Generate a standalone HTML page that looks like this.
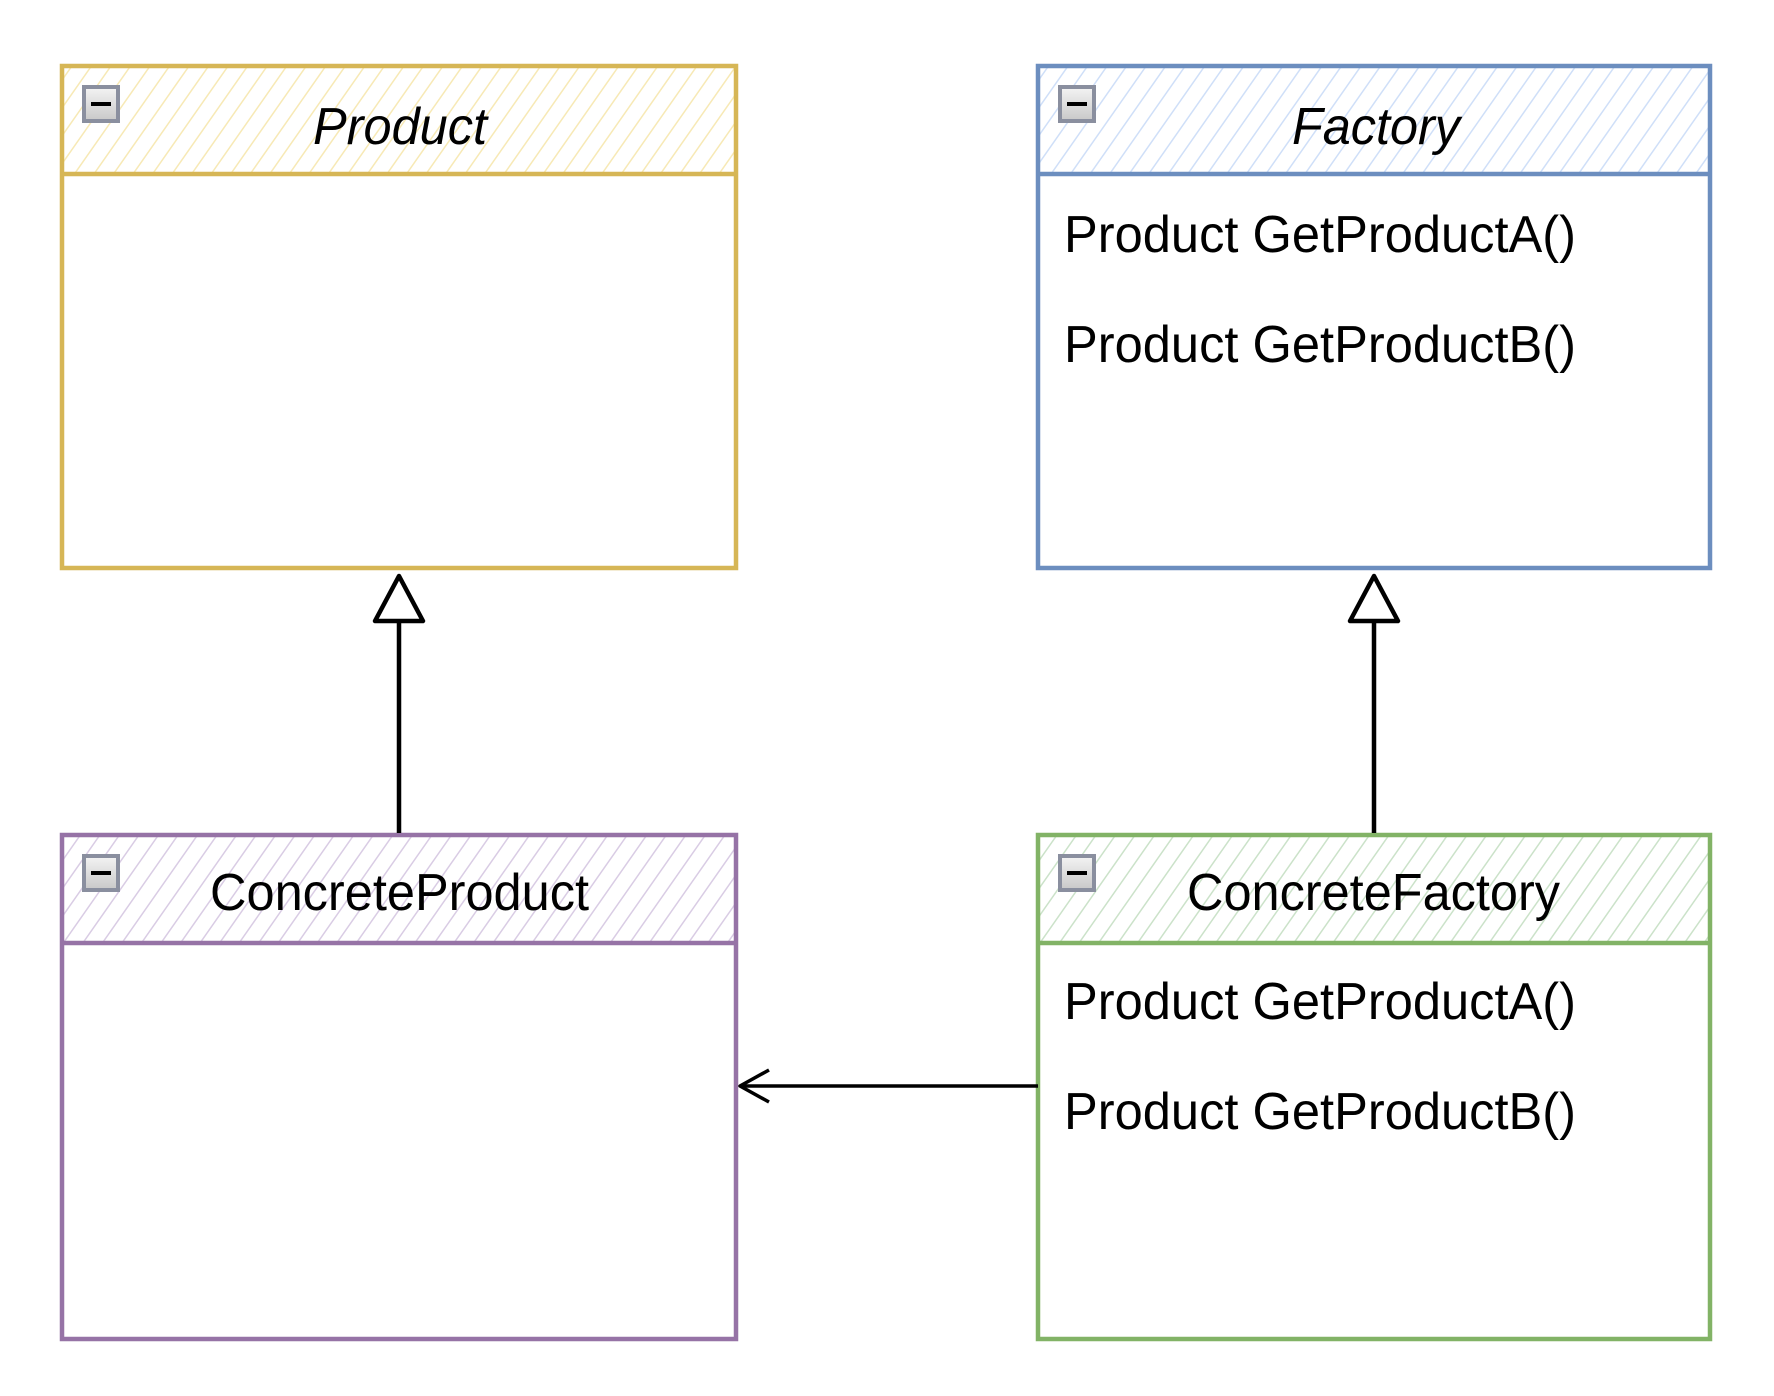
<!DOCTYPE html>
<html><head><style>html,body{margin:0;padding:0;background:#fff}svg{display:block}</style></head>
<body>
<svg width="1774" height="1396" viewBox="0 0 1774 1396" xmlns="http://www.w3.org/2000/svg" font-family="'Liberation Sans', Arial, sans-serif">
<defs>
<pattern id="hy" width="16" height="16" patternUnits="userSpaceOnUse" patternTransform="rotate(35)"><line x1="0" y1="0" x2="0" y2="16" stroke="#f7e9b5" stroke-width="3"/></pattern>
<pattern id="hb" width="16" height="16" patternUnits="userSpaceOnUse" patternTransform="rotate(35)"><line x1="0" y1="0" x2="0" y2="16" stroke="#cfdff8" stroke-width="3"/></pattern>
<pattern id="hp" width="16" height="16" patternUnits="userSpaceOnUse" patternTransform="rotate(35)"><line x1="0" y1="0" x2="0" y2="16" stroke="#d9cce4" stroke-width="3"/></pattern>
<pattern id="hg" width="16" height="16" patternUnits="userSpaceOnUse" patternTransform="rotate(35)"><line x1="0" y1="0" x2="0" y2="16" stroke="#cbe2c9" stroke-width="3"/></pattern>
<linearGradient id="ig" x1="0" y1="0" x2="0" y2="1"><stop offset="0" stop-color="#f4f4f4"/><stop offset="1" stop-color="#c8c8c8"/></linearGradient>
</defs>

<!-- Product -->
<rect x="62" y="66" width="674" height="108" fill="url(#hy)"/>
<rect x="62" y="66" width="674" height="502" fill="none" stroke="#d6b656" stroke-width="4.5"/>
<line x1="62" y1="174" x2="736" y2="174" stroke="#d6b656" stroke-width="4.5"/>
<!-- Factory -->
<rect x="1038" y="66" width="672" height="108" fill="url(#hb)"/>
<rect x="1038" y="66" width="672" height="502" fill="none" stroke="#6c8ebf" stroke-width="4.5"/>
<line x1="1038" y1="174" x2="1710" y2="174" stroke="#6c8ebf" stroke-width="4.5"/>
<!-- ConcreteProduct -->
<rect x="62" y="835" width="674" height="108" fill="url(#hp)"/>
<rect x="62" y="835" width="674" height="504" fill="none" stroke="#9673a6" stroke-width="4.5"/>
<line x1="62" y1="943" x2="736" y2="943" stroke="#9673a6" stroke-width="4.5"/>
<!-- ConcreteFactory -->
<rect x="1038" y="835" width="672" height="108" fill="url(#hg)"/>
<rect x="1038" y="835" width="672" height="504" fill="none" stroke="#82b366" stroke-width="4.5"/>
<line x1="1038" y1="943" x2="1710" y2="943" stroke="#82b366" stroke-width="4.5"/>

<!-- icons -->
<g>
<rect x="84" y="87" width="34" height="34" fill="url(#ig)" stroke="#8a8f9f" stroke-width="4"/><rect x="91" y="102" width="20" height="4" fill="#000"/>
<rect x="1060" y="87" width="34" height="34" fill="url(#ig)" stroke="#8a8f9f" stroke-width="4"/><rect x="1067" y="102" width="20" height="4" fill="#000"/>
<rect x="84" y="856" width="34" height="34" fill="url(#ig)" stroke="#8a8f9f" stroke-width="4"/><rect x="91" y="871" width="20" height="4" fill="#000"/>
<rect x="1060" y="856" width="34" height="34" fill="url(#ig)" stroke="#8a8f9f" stroke-width="4"/><rect x="1067" y="871" width="20" height="4" fill="#000"/>
</g>

<!-- titles -->
<text x="313" y="144" font-size="52" font-style="italic" textLength="174" lengthAdjust="spacingAndGlyphs">Product</text>
<text x="1292" y="144" font-size="52" font-style="italic" textLength="168" lengthAdjust="spacingAndGlyphs">Factory</text>
<text x="210" y="910" font-size="52" textLength="379" lengthAdjust="spacingAndGlyphs">ConcreteProduct</text>
<text x="1187" y="910" font-size="52" textLength="373" lengthAdjust="spacingAndGlyphs">ConcreteFactory</text>

<!-- methods -->
<text x="1064" y="252" font-size="52" textLength="512" lengthAdjust="spacingAndGlyphs">Product GetProductA()</text>
<text x="1064" y="362" font-size="52" textLength="512" lengthAdjust="spacingAndGlyphs">Product GetProductB()</text>
<text x="1064" y="1019" font-size="52" textLength="512" lengthAdjust="spacingAndGlyphs">Product GetProductA()</text>
<text x="1064" y="1129" font-size="52" textLength="512" lengthAdjust="spacingAndGlyphs">Product GetProductB()</text>

<!-- inheritance arrows -->
<line x1="399" y1="833" x2="399" y2="621" stroke="#000" stroke-width="4.5"/>
<polygon points="399,576 423,621 375,621" fill="#fff" stroke="#000" stroke-width="4.5" stroke-linejoin="round"/>
<line x1="1374" y1="833" x2="1374" y2="621" stroke="#000" stroke-width="4.5"/>
<polygon points="1374,576 1398,621 1350,621" fill="#fff" stroke="#000" stroke-width="4.5" stroke-linejoin="round"/>

<!-- association -->
<line x1="1038" y1="1086" x2="740" y2="1086" stroke="#000" stroke-width="3.5"/>
<polyline points="769,1070 740,1086 769,1102" fill="none" stroke="#000" stroke-width="3.5" stroke-linejoin="round"/>
</svg>
</body></html>
